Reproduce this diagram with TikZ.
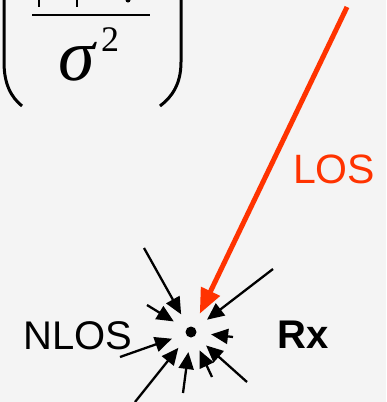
\documentclass[tikz,border=0pt]{standalone}
\usepackage{fontspec}
\setmainfont{Liberation Sans}
\newfontfamily\timesfont{Liberation Serif}
\usetikzlibrary{arrows.meta}
\definecolor{losred}{RGB}{255,51,0}
\definecolor{bggray}{RGB}{244,244,244}

\begin{document}
\begin{tikzpicture}[x=1pt,y=-1pt,
  lbl/.style={anchor=base west, inner sep=0pt},
  nlosray/.style={line width=2.3pt, -{Triangle[length=17pt,width=15pt]}},
  losray/.style={line width=5pt, draw=losred, -{Triangle[length=25pt,width=20pt]}, losred}]
\fill[bggray] (0,0) rectangle (386,402);
\useasboundingbox (0,0) rectangle (386,402);
% cut-off fraction at top
\draw[line width=3pt] (4,0) -- (4,62) .. controls (4,84) and (11,97) .. (22,106);
\draw[line width=3pt] (181,0) -- (181,62) .. controls (181,84) and (172,97) .. (160,106);
\draw[line width=2.7pt] (32,15) -- (150,15);
\draw[line width=2pt] (39,0) -- (39,7);
\draw[line width=2pt] (77,0) -- (77,7);
\fill (128,0) circle (2.5);
\node[anchor=base, inner sep=0pt] (sigma) at (77,80) {\fontsize{74}{74}\selectfont\timesfont\itshape σ};
\node[anchor=base, inner sep=0pt] (sq) at (110,51) {\fontsize{36}{36}\selectfont\timesfont 2};
% receiver
\node[circle, minimum size=40pt, inner sep=0pt] (rx) at (191,332) {};
\fill (rx.center) circle (5.5);
\node[lbl] (nlos) at (23,349) {\fontsize{40}{40}\selectfont NLOS};
\node[lbl] (rxlabel) at (277,348) {\fontsize{40}{40}\selectfont\bfseries Rx};
\node[lbl, text=losred] (los) at (293,183) {\fontsize{41}{41}\selectfont LOS};
% rays
\coordinate (tx) at (347,7);
\draw[losray] (tx) -- (rx);
\foreach \i/\x/\y in {1/144/248,2/147/305,3/120/357,4/135/402,5/183/393,6/212/377,7/247/382,8/233/337,9/273/269}{
  \coordinate (s\i) at (\x,\y);
  \draw[nlosray] (s\i) -- (rx);
}
\end{tikzpicture}
\end{document}
